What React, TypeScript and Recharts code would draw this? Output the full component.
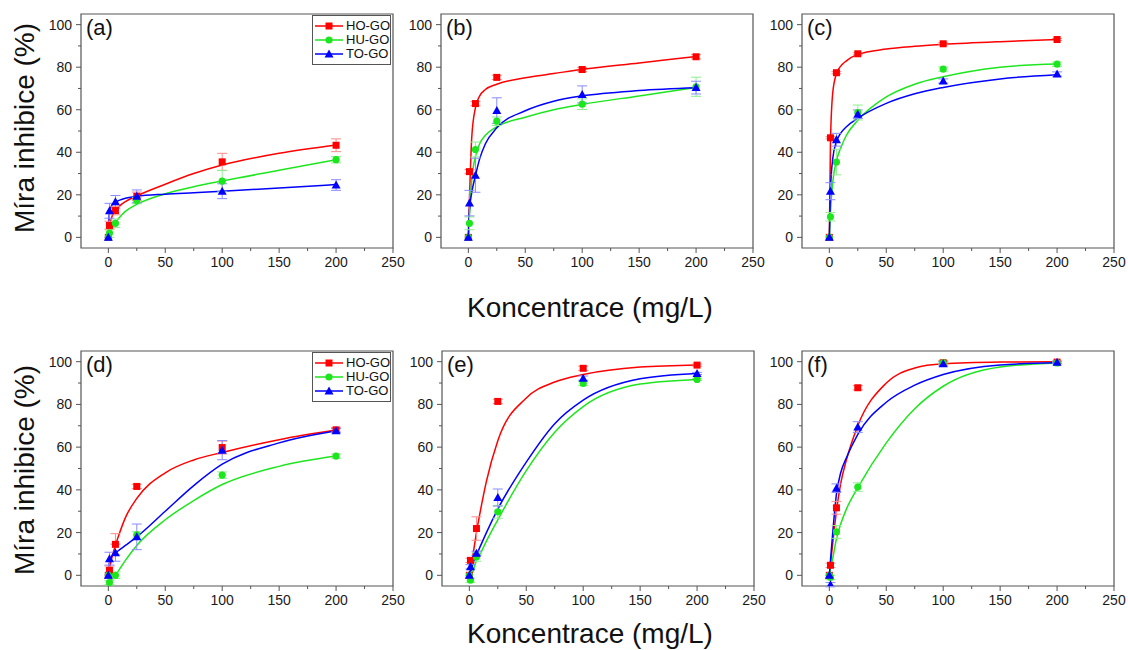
import React from 'react';
import { ComposedChart, Line, Scatter, XAxis, YAxis, ErrorBar, ReferenceArea } from 'recharts';

// concentrations of the measured points and of the fitted curves (mg/L)
const conc = [0, 1, 6.25, 25, 100, 200];
const fitConc = [0, 1, 3, 6.25, 10, 15, 25, 50, 75, 100, 150, 200];

const xTicks = [0, 25, 50, 75, 100, 125, 150, 175, 200, 225, 250];
const yTicks = [0, 10, 20, 30, 40, 50, 60, 70, 80, 90, 100];

const seriesNames = ['HO-GO', 'HU-GO', 'TO-GO'];
const seriesColors = ['#ff0000', '#1ee61e', '#0000ff'];
const errColors = ['#ff8a8a', '#8cf08c', '#8a8aff'];

// (a)
const aHO = [0, 5.6, 12.6, 19.3, 35.5, 43.3];
const aHU = [0, 2, 6.6, 17.3, 26.4, 36.5];
const aTO = [0, 12.5, 16.7, 19.3, 21.7, 24.6];
const aHOerr = [0, 2, 2, 2, 4, 3];
const aHUerr = [0, 2, 2, 1.5, 5, 1.5];
const aTOerr = [0, 3.5, 3, 3, 3.5, 2.5];
const aHOfit = [0, 5, 9.5, 12.5, 14.8, 16.8, 19.5, 25, 30, 34, 39.5, 43.4];
const aHUfit = [0, 1.5, 4, 7, 9.5, 12.2, 15.5, 20.5, 23.8, 26.5, 31.5, 36.5];
const aTOfit = [0, 12, 15, 16.5, 17.5, 18.4, 19.3, 20.3, 21, 21.7, 23.2, 24.8];

// (b)
const bHO = [0, 30.9, 62.9, 75.2, 78.9, 84.9];
const bHU = [0, 6.6, 41.3, 54.6, 62.6, 70.8];
const bTO = [0, 16.1, 29.2, 59.6, 67.2, 70.4];
const bHOerr = [0, 1, 1, 1, 1, 1];
const bHUerr = [0, 3, 3.5, 2, 2.5, 4.5];
const bTOerr = [0, 6, 8, 6, 4, 3];
const bHOfit = [0, 18, 47, 61, 66.5, 69.5, 72, 75, 77, 79, 82, 85];
const bHUfit = [0, 10, 27, 38, 44, 48, 52, 56.5, 60, 62.5, 66.5, 70.5];
const bTOfit = [0, 13, 21, 29, 37, 44, 51.5, 59.5, 64, 66.5, 69, 70.3];

// (c)
const cHO = [0, 46.8, 77.4, 86.3, 91, 93];
const cHU = [0, 9.7, 35.4, 58.7, 79.1, 81.4];
const cTO = [0, 21.7, 45.9, 57.9, 73.5, 76.8];
const cHOerr = [0, 0.5, 0.5, 0.5, 0.5, 0.5];
const cHUerr = [0, 2, 6, 3.5, 1, 1];
const cTOerr = [0, 4, 3, 2, 1, 1];
const cHOfit = [0, 45, 68, 77, 80.5, 83, 86, 88.5, 89.8, 90.7, 92, 93];
const cHUfit = [0, 12, 26, 36, 42, 48, 55, 66, 72, 75.5, 80, 81.5];
const cTOfit = [0, 22, 37, 45, 49, 52, 56, 63, 67.5, 70.5, 74.5, 76.5];

// (d)
const dHO = [0, 2.3, 14.5, 41.6, 59.8, 68.1];
const dHU = [0, -3.4, 0, 18.9, 46.9, 55.8];
const dTO = [0, 7.8, 10.6, 18, 58.6, 67.7];
const dHOerr = [0, 2, 5, 1, 3, 1];
const dHUerr = [0, 1, 1.5, 1.5, 1.5, 1];
const dTOerr = [0, 3, 4, 6, 4.5, 1];
const dHOfit = [0, 3, 8, 14, 20, 27, 36, 48, 54, 57.5, 63.5, 68];
const dHUfit = [-3.5, -3, -2, 0, 3, 7, 14, 26, 35, 42.5, 51, 55.8];
const dTOfit = [0, 6, 9, 10.5, 12, 14, 18, 30, 42, 52, 62, 67.7];

// (e)
const eHO = [0, 7, 21.9, 81.4, 96.9, 98.4];
const eHU = [0, -2.3, 8.6, 29.7, 89.8, 91.7];
const eTO = [0, 4, 10.3, 36.4, 92.3, 94.5];
const eHOerr = [0, 1, 5.5, 1, 1, 0.5];
const eHUerr = [0, 1, 2, 3, 1, 0.5];
const eTOerr = [0, 1, 1, 4, 1, 0.5];
const eHOfit = [0, 3, 9, 20, 31, 44, 63, 83, 90.5, 94, 97.5, 98.5];
const eHUfit = [-2.5, -1.5, 1.5, 7, 10.5, 16, 26, 49, 67, 79, 89.5, 91.7];
const eTOfit = [0, 1.5, 5, 9.5, 14, 20, 31, 53, 71, 82, 92, 94.5];

// (f)
const fHO = [0, 4.7, 31.6, 87.8, 99.5, 99.8];
const fHU = [0, -1, 20.3, 41.3, 99.4, 99.4];
const fTO = [0, -4.4, 40.8, 69.4, 99, 99.7];
const fHOerr = [0, 1, 3, 1, 1, 0.5];
const fHUerr = [0, 1, 3, 2, 0.5, 0.5];
const fTOerr = [0, 1, 2, 2.5, 1, 0.5];
const fHOfit = [0, 5, 15, 30, 43, 54, 70, 90, 97, 99, 99.8, 100];
const fHUfit = [0, 3, 8, 17, 24, 31, 41, 62, 78, 88.5, 97.5, 99.4];
const fTOfit = [0, 7, 20, 38, 48, 55, 66, 81, 89, 94, 98.5, 99.5];

const FONT = '"Liberation Sans", Arial, sans-serif';
const FRAME = '#555';

const panels = [
  { label: '(a)', left: 81, top: 14, h: 234, legend: true, pts: [aHO, aHU, aTO], errs: [aHOerr, aHUerr, aTOerr], fits: [aHOfit, aHUfit, aTOfit] },
  { label: '(b)', left: 441, top: 14, h: 234, legend: false, pts: [bHO, bHU, bTO], errs: [bHOerr, bHUerr, bTOerr], fits: [bHOfit, bHUfit, bTOfit] },
  { label: '(c)', left: 802, top: 14, h: 234, legend: false, pts: [cHO, cHU, cTO], errs: [cHOerr, cHUerr, cTOerr], fits: [cHOfit, cHUfit, cTOfit] },
  { label: '(d)', left: 81, top: 351, h: 235, legend: true, pts: [dHO, dHU, dTO], errs: [dHOerr, dHUerr, dTOerr], fits: [dHOfit, dHUfit, dTOfit] },
  { label: '(e)', left: 441.5, top: 351, h: 235, legend: false, pts: [eHO, eHU, eTO], errs: [eHOerr, eHUerr, eTOerr], fits: [eHOfit, eHUfit, eTOfit] },
  { label: '(f)', left: 802, top: 351, h: 235, legend: false, pts: [fHO, fHU, fTO], errs: [fHOerr, fHUerr, fTOerr], fits: [fHOfit, fHUfit, fTOfit] },
];

const Y_AXIS_W = 45;
const PLOT_W = 312;
const X_AXIS_H = 30;

const drawMarker = (kind: number, color: string, cx: number, cy: number) => {
  if (kind === 0) return <rect x={cx - 3.5} y={cy - 3.5} width={7} height={7} fill={color} />;
  if (kind === 1) return <circle cx={cx} cy={cy} r={3.6} fill={color} />;
  return <polygon points={`${cx},${cy - 4.5} ${cx + 4.5},${cy + 3.5} ${cx - 4.5},${cy + 3.5}`} fill={color} />;
};

const markerShape = (kind: number) => (props: any) => {
  const { cx, cy } = props;
  if (cx == null || cy == null) return <g />;
  return drawMarker(kind, seriesColors[kind], cx, cy);
};

const XTick = (props: any) => {
  const { x, y, payload } = props;
  const major = payload.value % 50 === 0;
  return (
    <g>
      <line x1={x} x2={x} y1={y - 9} y2={y - 9 + (major ? 5 : 3)} stroke={FRAME} />
      {major && (
        <text x={x} y={y} dy="0.71em" textAnchor="middle" fontSize={14} fill="#1a1a1a" fontFamily={FONT}>
          {payload.value}
        </text>
      )}
    </g>
  );
};

const YTick = (props: any) => {
  const { x, y, payload } = props;
  const major = payload.value % 20 === 0;
  return (
    <g>
      <line x1={x + 9} x2={x + 9 - (major ? 5 : 3)} y1={y} y2={y} stroke={FRAME} />
      {major && (
        <text x={x} y={y} dy="0.355em" textAnchor="end" fontSize={14} fill="#1a1a1a" fontFamily={FONT}>
          {payload.value}
        </text>
      )}
    </g>
  );
};

const LegendBox = ({ left, top }: { left: number; top: number }) => (
  <div
    style={{
      position: 'absolute',
      left,
      top,
      border: `1px solid ${FRAME}`,
      background: '#fff',
      width: 77,
      padding: '3px 0',
      fontFamily: FONT,
      fontSize: 13,
      color: '#111',
      whiteSpace: 'nowrap',
    }}
  >
    {seriesNames.map((n, i) => (
      <div key={n} style={{ display: 'flex', alignItems: 'center', height: 14 }}>
        <svg width={33} height={14} style={{ display: 'block', flex: 'none' }}>
          <line x1={2} x2={30} y1={7} y2={7} stroke={seriesColors[i]} strokeWidth={1.5} />
          {drawMarker(i, seriesColors[i], 16, 7)}
        </svg>
        <span style={{ lineHeight: '14px' }}>{n}</span>
      </div>
    ))}
  </div>
);

const Panel = ({ p }: { p: (typeof panels)[number] }) => {
  const width = Y_AXIS_W + PLOT_W + 20;
  const height = 14 + p.h + X_AXIS_H + 2;
  return (
    <div style={{ position: 'absolute', left: p.left - Y_AXIS_W, top: p.top - 14 }}>
      <ComposedChart width={width} height={height} margin={{ top: 14, right: 20, bottom: 2, left: 0 }}>
        <XAxis
          type="number"
          dataKey="x"
          domain={[-24, 250]}
          allowDataOverflow
          ticks={xTicks}
          interval={0}
          height={X_AXIS_H}
          axisLine={false}
          tickLine={false}
          tickSize={5}
          tickMargin={4}
          tick={<XTick />}
        />
        <YAxis
          type="number"
          domain={[-5, 105]}
          allowDataOverflow
          ticks={yTicks}
          interval={0}
          width={Y_AXIS_W}
          axisLine={false}
          tickLine={false}
          tickSize={5}
          tickMargin={4}
          tick={<YTick />}
        />
        <ReferenceArea
          x1={-24}
          x2={250}
          y1={-5}
          y2={105}
          fill="none"
          stroke={FRAME}
          strokeWidth={1.2}
          ifOverflow="visible"
          label={{ value: p.label, position: 'insideTopLeft', offset: 5, fontSize: 22, fill: '#111', fontFamily: FONT }}
        />
        {p.fits.map((vals, i) => (
          <Line
            key={'fit' + i}
            data={fitConc.map((x, j) => ({ x, y: vals[j] }))}
            dataKey="y"
            type="monotone"
            stroke={seriesColors[i]}
            strokeWidth={1.5}
            dot={false}
            activeDot={false}
            isAnimationActive={false}
          />
        ))}
        {p.pts.map((vals, i) => (
          <Scatter
            key={'pts' + i}
            data={conc.map((x, j) => ({ x, y: vals[j], e: p.errs[i][j] }))}
            dataKey="y"
            shape={markerShape(i)}
            isAnimationActive={false}
          >
            <ErrorBar dataKey="e" direction="y" width={5} stroke={errColors[i]} strokeWidth={1} />
          </Scatter>
        ))}
      </ComposedChart>
    </div>
  );
};

export default function App() {
  return (
    <div style={{ position: 'absolute', left: 0, top: 0, width: 1128, height: 650, overflow: 'hidden', background: '#fff', fontFamily: FONT }}>
      {panels.map((p) => (
        <Panel key={p.label} p={p} />
      ))}
      {panels
        .filter((p) => p.legend)
        .map((p) => (
          <LegendBox key={'lg' + p.label} left={p.left + PLOT_W - 81} top={p.top + 1} />
        ))}
      <svg width={1128} height={650} style={{ position: 'absolute', left: 0, top: 0, pointerEvents: 'none' }}>
        <text x={590} y={317} textAnchor="middle" fontSize={28} fill="#111" fontFamily={FONT}>Koncentrace (mg/L)</text>
        <text x={590} y={643} textAnchor="middle" fontSize={28} fill="#111" fontFamily={FONT}>Koncentrace (mg/L)</text>
        <text transform="translate(34,128) rotate(-90)" textAnchor="middle" fontSize={28} fill="#111" fontFamily={FONT}>Míra inhibice (%)</text>
        <text transform="translate(34,470) rotate(-90)" textAnchor="middle" fontSize={28} fill="#111" fontFamily={FONT}>Míra inhibice (%)</text>
      </svg>
    </div>
  );
}
